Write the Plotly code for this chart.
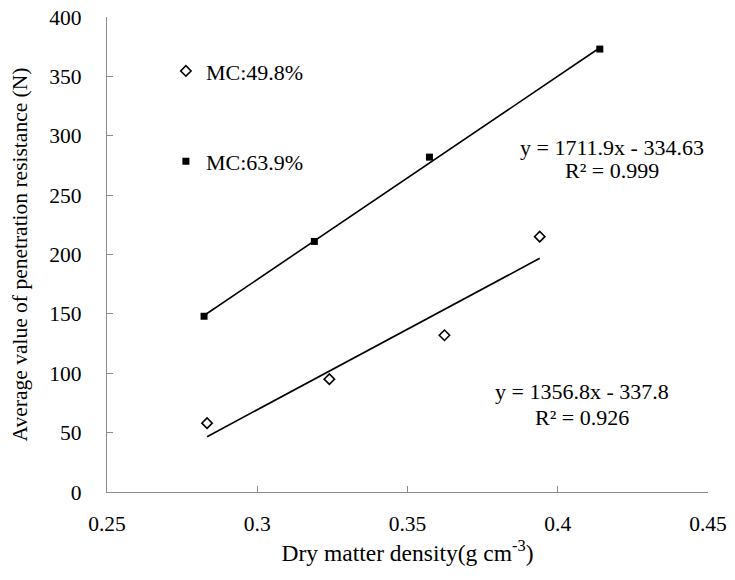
import plotly.graph_objects as go

# Data
x_mc498 = [0.2833, 0.3240, 0.3623, 0.3940]
y_mc498 = [58, 95, 132, 215]
x_mc639 = [0.2823, 0.3190, 0.3573, 0.4140]
y_mc639 = [148, 211, 282, 373]

fit_498 = (1356.8, -337.8)
fit_639 = (1711.9, -334.63)
eq_498 = ["y = 1356.8x - 337.8", "R² = 0.926"]
eq_639 = ["y = 1711.9x - 334.63", "R² = 0.999"]

x_ticks = [0.25, 0.3, 0.35, 0.4, 0.45]
x_tick_text = ["0.25", "0.3", "0.35", "0.4", "0.45"]
y_ticks = [0, 50, 100, 150, 200, 250, 300, 350, 400]

FONT = "Liberation Serif"

def line_pts(xs, fit):
    lo, hi = min(xs), max(xs)
    return [lo, hi], [fit[0] * lo + fit[1], fit[0] * hi + fit[1]]

fig = go.Figure()

lx, ly = line_pts(x_mc498, fit_498)
fig.add_trace(go.Scatter(x=lx, y=ly, mode="lines", line=dict(color="black", width=1.6),
                         showlegend=False, hoverinfo="skip"))
lx, ly = line_pts(x_mc639, fit_639)
fig.add_trace(go.Scatter(x=lx, y=ly, mode="lines", line=dict(color="black", width=1.6),
                         showlegend=False, hoverinfo="skip"))

fig.add_trace(go.Scatter(x=x_mc498, y=y_mc498, mode="markers", name="MC:49.8%",
                         marker=dict(symbol="diamond-open", size=8, color="black",
                                     line=dict(width=1.6, color="black")),
                         legend="legend"))
fig.add_trace(go.Scatter(x=x_mc639, y=y_mc639, mode="markers", name="MC:63.9%",
                         marker=dict(symbol="square", size=7, color="black"),
                         legend="legend2"))

axis_common = dict(showgrid=False, zeroline=False, showline=True, linecolor="#8c8c8c",
                   linewidth=1.2, ticks="inside", ticklen=6, tickcolor="#8c8c8c",
                   tickwidth=1.2, automargin=False,
                   tickfont=dict(family=FONT, size=21.5, color="black"))

fig.update_xaxes(range=[0.25, 0.45], tickvals=x_ticks, ticktext=x_tick_text,
                 ticklabelstandoff=12,
                 title=dict(text="Dry matter density(g cm<sup>-3</sup>)",
                            font=dict(family=FONT, size=23.5, color="black"), standoff=7),
                 **axis_common)
fig.update_yaxes(range=[0, 400], tickvals=y_ticks, ticklabelstandoff=20,
                 title=dict(text="Average value of penetration resistance (N)",
                            font=dict(family=FONT, size=21.5, color="black"), standoff=15),
                 **axis_common)

for (txt, xx, yy) in [(eq_639[0], 0.418, 290), (eq_639[1], 0.418, 270.5),
                      (eq_498[0], 0.408, 84.3), (eq_498[1], 0.408, 62.4)]:
    fig.add_annotation(x=xx, y=yy, text=txt, showarrow=False,
                       font=dict(family=FONT, size=22, color="black"))

leg = dict(font=dict(family=FONT, size=22, color="black"), bgcolor="rgba(0,0,0,0)",
           xanchor="left", yanchor="middle", itemwidth=30)
fig.update_layout(
    width=735, height=580,
    margin=dict(l=107, r=27, t=17, b=88, autoexpand=False),
    paper_bgcolor="white", plot_bgcolor="white",
    legend=dict(x=0.098, y=0.886, **leg),
    legend2=dict(x=0.098, y=0.696, **leg),
)

fig.write_html("out.html", config={"displayModeBar": False},
               post_script="document.body.style.margin='0';document.body.style.overflow='hidden';")
